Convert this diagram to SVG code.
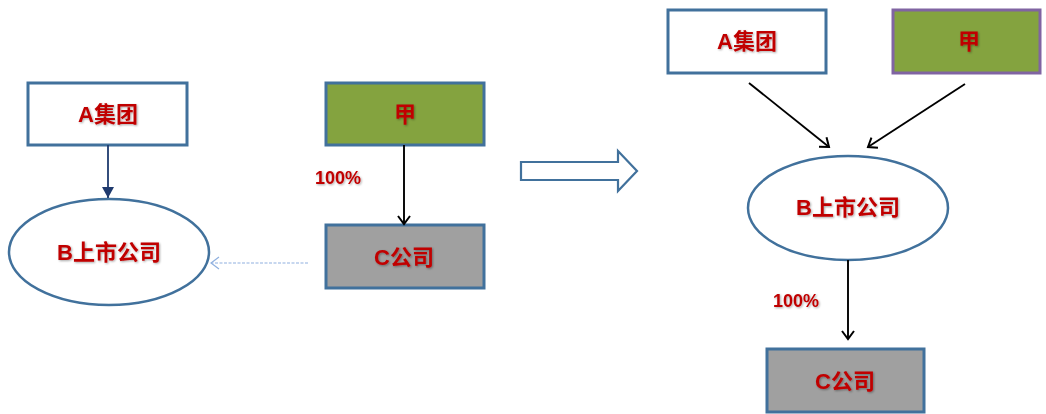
<svg xmlns="http://www.w3.org/2000/svg" width="1046" height="414" viewBox="0 0 1046 414">
  <defs>
    <style>
      .box { stroke: #41719c; stroke-width: 3; }
      .white { fill: #ffffff; }
      .green { fill: #84a33f; }
      .grey { fill: #a0a0a0; }
      .oval { fill: #ffffff; stroke: #41719c; stroke-width: 2.5; }
      .lbl { font-family: "Liberation Sans", "Noto Sans CJK SC", sans-serif; font-weight: bold; font-size: 22px; fill: #c00000; text-anchor: middle; dominant-baseline: central; filter: url(#shadow); }
      .pct { font-family: "Liberation Sans", "Noto Sans CJK SC", sans-serif; font-weight: bold; font-size: 18px; fill: #c00000; text-anchor: middle; dominant-baseline: central; filter: url(#shadow); }
      .line { fill: none; stroke: #000000; stroke-width: 1.9; }
    </style>
    <filter id="shadow" x="-20%" y="-20%" width="140%" height="140%">
      <feDropShadow dx="1" dy="1" stdDeviation="0.8" flood-color="#000000" flood-opacity="0.35"/>
    </filter>
    <marker id="open" markerWidth="14" markerHeight="14" refX="11" refY="7" orient="auto" markerUnits="userSpaceOnUse">
      <path d="M3,1 L11,7 L3,13" fill="none" stroke="#000000" stroke-width="2"/>
    </marker>
    <marker id="navy" markerWidth="14" markerHeight="14" refX="12" refY="7" orient="auto" markerUnits="userSpaceOnUse">
      <path d="M1,1 L12,7 L1,13 Z" fill="#1f3a6e"/>
    </marker>
    <marker id="pale" markerWidth="14" markerHeight="14" refX="11" refY="7" orient="auto" markerUnits="userSpaceOnUse">
      <path d="M3,1 L11,7 L3,13" fill="none" stroke="#8fb0df" stroke-width="1.2"/>
    </marker>
  </defs>

  <rect width="1046" height="414" fill="#ffffff"/>

  <!-- before restructuring -->
  <g id="left-a-group">
    <rect class="box white" x="28" y="83" width="159" height="62"/>
    <text class="lbl" x="108" y="114">A集团</text>
  </g>
  <g id="left-jia">
    <rect class="box green" x="326" y="83" width="158" height="62"/>
    <text class="lbl" x="405" y="114">甲</text>
  </g>
  <g id="left-b-listed">
    <ellipse class="oval" cx="109" cy="252" rx="100" ry="53"/>
    <text class="lbl" x="109" y="252">B上市公司</text>
  </g>
  <g id="left-c-company">
    <rect class="box grey" x="326" y="225" width="158" height="63"/>
    <text class="lbl" x="404" y="257">C公司</text>
  </g>

  <!-- transition arrow -->
  <g id="transition">
    <path d="M521,162 L618,162 L618,151 L637,171 L618,191 L618,180 L521,180 Z" fill="#ffffff" stroke="#41719c" stroke-width="2.2"/>
  </g>

  <!-- after restructuring -->
  <g id="right-a-group">
    <rect class="box white" x="668" y="10" width="158" height="63"/>
    <text class="lbl" x="747" y="41">A集团</text>
  </g>
  <g id="right-jia">
    <rect x="893" y="10" width="147" height="63" fill="#84a33f" stroke="#8064a2" stroke-width="3"/>
    <text class="lbl" x="969" y="41">甲</text>
  </g>
  <g id="right-b-listed">
    <ellipse class="oval" cx="848" cy="208" rx="100" ry="52"/>
    <text class="lbl" x="848" y="207">B上市公司</text>
  </g>
  <g id="right-c-company">
    <rect class="box grey" x="767" y="349" width="157" height="63"/>
    <text class="lbl" x="845" y="381">C公司</text>
  </g>

  <!-- connectors -->
  <g id="connectors">
    <line x1="108" y1="145" x2="108" y2="198" stroke="#1f3a6e" stroke-width="1.8" marker-end="url(#navy)"/>
    <line class="line" x1="404" y1="145" x2="404" y2="224" marker-end="url(#open)"/>
    <line x1="308" y1="263" x2="211" y2="263" stroke="#8fb0df" stroke-width="1.2" stroke-dasharray="3,1.5" marker-end="url(#pale)"/>
    <line class="line" x1="749" y1="83" x2="829" y2="147" marker-end="url(#open)"/>
    <line class="line" x1="965" y1="84" x2="868" y2="147" marker-end="url(#open)"/>
    <line class="line" x1="848" y1="260" x2="848" y2="339" marker-end="url(#open)"/>
  </g>

  <!-- share labels -->
  <text class="pct" x="338" y="178">100%</text>
  <text class="pct" x="796" y="301">100%</text>
</svg>
